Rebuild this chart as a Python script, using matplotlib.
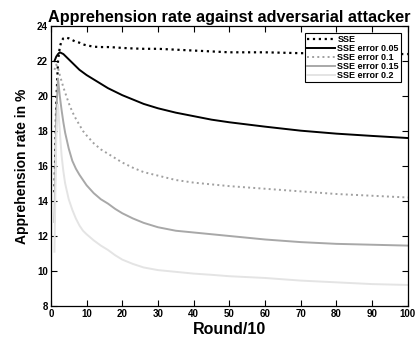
import matplotlib
matplotlib.use("Agg")
import matplotlib.pyplot as plt

plt.rcParams['font.family'] = ['Liberation Sans', 'DejaVu Sans']

# 数据
rounds = [1, 1.5, 2, 2.5, 3, 3.5, 4, 5, 6, 7, 8, 9, 10, 12, 14, 16, 18, 20,
          23, 26, 30, 35, 40, 45, 50, 60, 70, 80, 90, 100]
sse = [14.5, 19.5, 22.0, 22.8, 23.15, 23.3, 23.35, 23.3, 23.2, 23.1, 23.05, 22.95,
       22.9, 22.82, 22.8, 22.8, 22.78, 22.75, 22.72, 22.7, 22.7, 22.65, 22.6, 22.55,
       22.5, 22.5, 22.45, 22.45, 22.4, 22.4]
sse_005 = [22.0, 22.25, 22.4, 22.5, 22.45, 22.4, 22.3, 22.1, 21.9, 21.7, 21.5, 21.35,
           21.2, 20.95, 20.7, 20.45, 20.25, 20.05, 19.8, 19.55, 19.3, 19.05, 18.85,
           18.65, 18.5, 18.25, 18.02, 17.85, 17.72, 17.6]
sse_01 = [21.5, 21.8, 21.6, 21.2, 20.85, 20.5, 20.2, 19.6, 19.1, 18.7, 18.35, 18.0,
          17.75, 17.3, 16.95, 16.7, 16.45, 16.2, 15.9, 15.65, 15.45, 15.2, 15.05,
          14.95, 14.85, 14.7, 14.55, 14.4, 14.3, 14.2]
sse_015 = [12.8, 19.0, 21.0, 20.0, 19.2, 18.5, 17.9, 17.0, 16.3, 15.85, 15.5, 15.2,
           14.9, 14.45, 14.1, 13.85, 13.55, 13.3, 13.0, 12.75, 12.5, 12.3, 12.2, 12.1,
           12.0, 11.8, 11.65, 11.55, 11.5, 11.45]
sse_02 = [11.1, 17.5, 19.5, 18.0, 16.6, 15.7, 15.0, 14.1, 13.5, 13.0, 12.6, 12.3,
          12.1, 11.75, 11.45, 11.2, 10.9, 10.65, 10.4, 10.2, 10.05, 9.95, 9.85, 9.78,
          9.7, 9.6, 9.45, 9.35, 9.25, 9.2]
labels = ["SSE", "SSE error 0.05", "SSE error 0.1", "SSE error 0.15", "SSE error 0.2"]

fig = plt.figure(figsize=(4.17, 3.43), dpi=100)
ax = fig.add_axes([0.122, 0.108, 0.856, 0.816])

ax.plot(rounds, sse, color="black", linestyle=":", linewidth=1.6, label=labels[0])
ax.plot(rounds, sse_005, color="black", linestyle="-", linewidth=1.4, label=labels[1])
ax.plot(rounds, sse_01, color="#a0a0a0", linestyle=":", linewidth=1.4, label=labels[2])
ax.plot(rounds, sse_015, color="#a8a8a8", linestyle="-", linewidth=1.4, label=labels[3])
ax.plot(rounds, sse_02, color="#e4e4e4", linestyle="-", linewidth=1.4, label=labels[4])

ax.set_xlim(0, 100)
ax.set_ylim(8, 24)
ax.set_xticks(range(0, 101, 10))
ax.set_yticks(range(8, 25, 2))
ax.tick_params(direction="in", top=True, right=True, length=4, width=0.8,
               labelsize=7, pad=2)
for lab in ax.get_xticklabels() + ax.get_yticklabels():
    lab.set_fontweight("bold")
for s in ax.spines.values():
    s.set_linewidth(0.9)

ax.set_title("Apprehension rate against adversarial attacker", fontsize=11.7,
             fontweight="bold", pad=3)
ax.set_xlabel("Round/10", fontsize=11.5, fontweight="bold", labelpad=2)
ax.set_ylabel("Apprehension rate in %", fontsize=10, fontweight="bold", labelpad=6)

leg = ax.legend(loc="upper right", prop={"weight": "bold", "size": 6.5},
                handlelength=3.2, handletextpad=0.2, borderpad=0.2, labelspacing=0.0,
                borderaxespad=0.8, fancybox=False, framealpha=1)
leg.get_frame().set_edgecolor("black")
leg.get_frame().set_linewidth(0.8)

fig.savefig("out.png", dpi=100)
